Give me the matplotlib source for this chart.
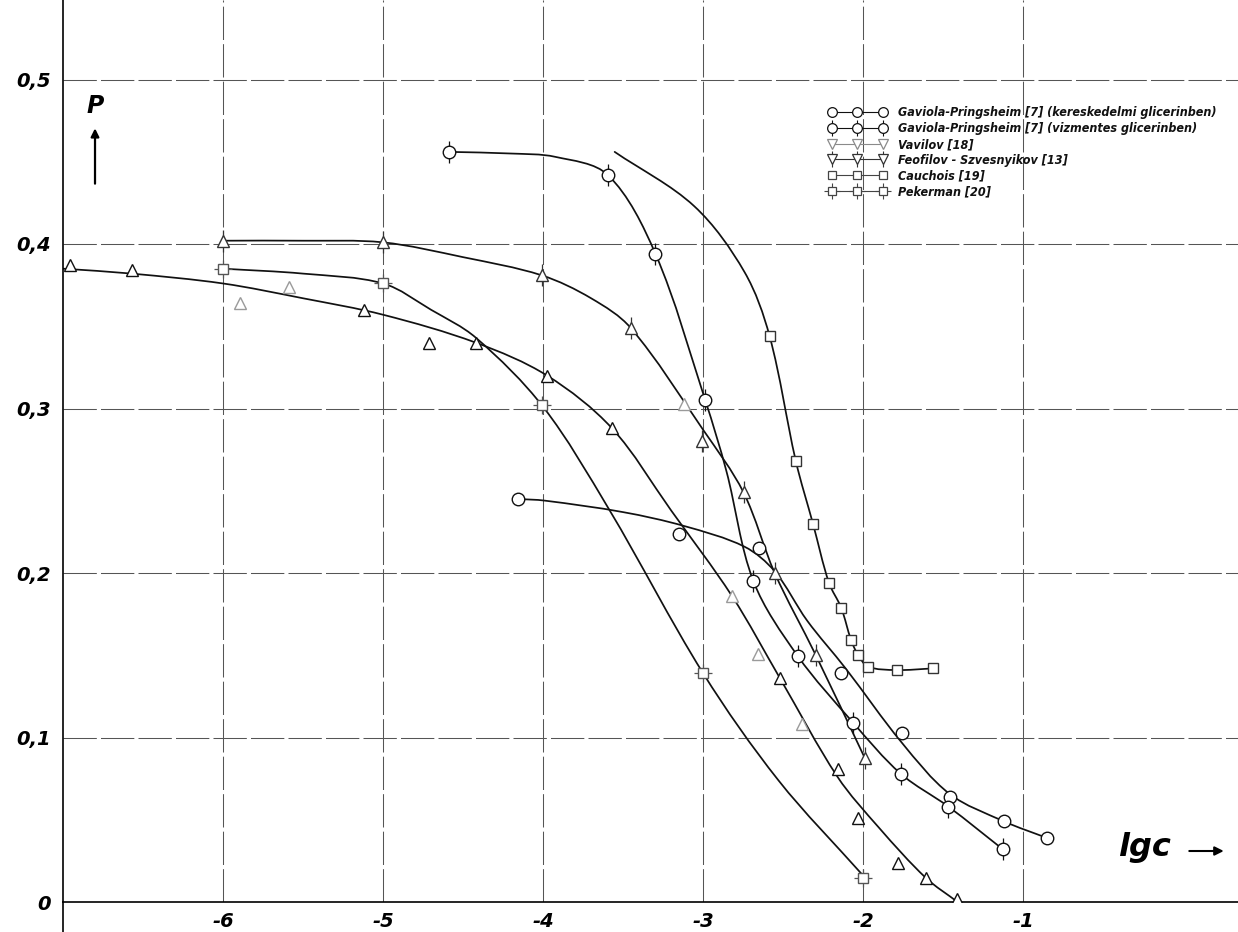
import numpy as np
import matplotlib
matplotlib.use("Agg")
import matplotlib.pyplot as plt
from matplotlib import font_manager
from matplotlib.path import Path
from matplotlib.patches import PathPatch
from matplotlib.lines import Line2D

# ---------------- data ----------------
x_ticks = [-6, -5, -4, -3, -2, -1]
x_tick_labels = ["-6", "-5", "-4", "-3", "-2", "-1"]
y_ticks = [0, 0.1, 0.2, 0.3, 0.4, 0.5]
y_tick_labels = ["0", "0,1", "0,2", "0,3", "0,4", "0,5"]

legend_labels = [
    "Gaviola-Pringsheim [7] (kereskedelmi glicerinben)",
    "Gaviola-Pringsheim [7] (vizmentes glicerinben)",
    "Vavilov [18]",
    "Feofilov - Szvesnyikov [13]",
    "Cauchois [19]",
    "Pekerman [20]",
]

# Gaviola-Pringsheim, kereskedelmi glicerin (plain circles)
kk_x = [-4.155, -3.149, -2.654, -2.138, -1.759, -1.456, -1.120, -0.854]
kk_p = [0.245, 0.224, 0.215, 0.139, 0.103, 0.064, 0.049, 0.039]
kk_curve_x = [-4.155, -3.99, -3.5, -3.12, -2.742, -2.553, -2.35, -2.11, -1.76, -1.46, -1.12, -0.854]
kk_curve_p = [0.245, 0.244, 0.237, 0.2286, 0.216, 0.201, 0.171, 0.142, 0.097, 0.0657, 0.049, 0.039]

# Gaviola-Pringsheim, vizmentes glicerin (circles with ticks)
vm_x = [-4.590, -3.596, -3.298, -2.987, -2.686, -2.409, -2.063, -1.766, -1.468, -1.127]
vm_p = [0.456, 0.442, 0.394, 0.305, 0.195, 0.1495, 0.109, 0.078, 0.058, 0.032]
vm_curve_x = [-4.59, -4.2, -3.925, -3.596, -3.298, -2.987, -2.855, -2.686, -2.409, -2.063, -1.766, -1.468, -1.127]
vm_curve_p = [0.456, 0.455, 0.453, 0.442, 0.394, 0.305, 0.262, 0.195, 0.1495, 0.109, 0.078, 0.058, 0.032]

# Vavilov (triangles; faint ones drawn lighter)
vav_x = [-6.957, -6.568, -5.117, -4.714, -4.422, -3.975, -3.571, -2.522, -2.157, -2.03, -1.78, -1.608, -1.411]
vav_p = [0.387, 0.384, 0.360, 0.340, 0.340, 0.320, 0.288, 0.136, 0.081, 0.051, 0.024, 0.0146, 0.002]
vav_faint_x = [-5.895, -5.586, -3.118, -2.818, -2.66, -2.384]
vav_faint_p = [0.364, 0.374, 0.303, 0.186, 0.151, 0.108]
vav_curve_x = [-7.0, -6.57, -6.0, -5.5, -5.0, -4.42, -3.975, -3.57, -3.2, -2.82, -2.52, -2.16, -1.9, -1.608, -1.41]
vav_curve_p = [0.385, 0.382, 0.376, 0.367, 0.357, 0.340, 0.320, 0.288, 0.238, 0.186, 0.136, 0.076, 0.045, 0.0146, 0.0]

# Feofilov - Szvesnyikov (triangles with ticks)
feo_x = [-6.0, -5.0, -4.01, -3.453, -3.01, -2.748, -2.553, -2.296, -1.99]
feo_p = [0.402, 0.401, 0.381, 0.349, 0.280, 0.249, 0.200, 0.150, 0.0875]
feo_curve_x = [-6.0, -5.5, -5.0, -4.5, -4.01, -3.7, -3.453, -3.0, -2.748, -2.553, -2.296, -1.99]
feo_curve_p = [0.402, 0.402, 0.401, 0.392, 0.381, 0.367, 0.349, 0.287, 0.249, 0.200, 0.150, 0.0875]

# Cauchois (plain squares)
cau_x = [-2.585, -2.421, -2.314, -2.214, -2.138, -2.075, -2.031, -1.969, -1.791, -1.563]
cau_p = [0.344, 0.268, 0.230, 0.194, 0.179, 0.159, 0.150, 0.143, 0.141, 0.142]
cau_curve_x = [-3.553, -3.056, -2.742, -2.585, -2.421, -2.314, -2.214, -2.138, -2.075, -2.031, -1.969, -1.791, -1.563]
cau_curve_p = [0.456, 0.423, 0.383, 0.344, 0.268, 0.230, 0.194, 0.179, 0.159, 0.150, 0.143, 0.141, 0.142]

# Pekerman (squares with ticks)
pek_x = [-6.0, -5.0, -4.01, -3.0, -2.0]
pek_p = [0.385, 0.376, 0.302, 0.139, 0.0146]
pek_curve_x = [-6.0, -5.5, -5.0, -4.7, -4.42, -4.0, -3.59, -3.0, -2.53, -2.0]
pek_curve_p = [0.385, 0.382, 0.376, 0.360, 0.343, 0.301, 0.239, 0.139, 0.074, 0.016]

# ---------------- helpers ----------------
SX, SY = 160.0, 1645.0  # approx pixels per data unit, for even smoothing


def smooth_path(xs, ys):
    P = np.column_stack([np.asarray(xs, float) * SX, np.asarray(ys, float) * SY])
    n = len(P)
    verts = [tuple(P[0])]
    codes = [Path.MOVETO]
    for i in range(n - 1):
        p0 = P[i - 1] if i > 0 else P[i]
        p1 = P[i]
        p2 = P[i + 1]
        p3 = P[i + 2] if i + 2 < n else P[i + 1]
        d01 = np.linalg.norm(p1 - p0) + 1e-9
        d12 = np.linalg.norm(p2 - p1) + 1e-9
        d23 = np.linalg.norm(p3 - p2) + 1e-9
        c1 = p1 + (p2 - p0) * (d12 / (d01 + d12)) / 3.0 if i > 0 else p1 + (p2 - p1) / 3.0
        c2 = p2 - (p3 - p1) * (d12 / (d12 + d23)) / 3.0 if i + 2 < n else p2 - (p2 - p1) / 3.0
        verts += [tuple(c1), tuple(c2), tuple(p2)]
        codes += [Path.CURVE4] * 3
    V = np.array(verts)
    V[:, 0] /= SX
    V[:, 1] /= SY
    return Path(V, codes)


def curve(ax, xs, ys, lw=1.25, color="#111111"):
    ax.add_patch(PathPatch(smooth_path(xs, ys), facecolor="none", edgecolor=color,
                           lw=lw, zorder=2, capstyle="round"))


def marks(ax, xs, ys, marker, ms, tick=None, color="#111111", tick_ms=None):
    if tick:
        ax.plot(xs, ys, ls="none", marker=tick, ms=tick_ms or ms * 1.7, mec=color,
                mew=0.9, zorder=3)
    ax.plot(xs, ys, ls="none", marker=marker, ms=ms, mfc="white", mec=color,
            mew=1.0, zorder=4)


# ---------------- figure ----------------
W, H = 1238, 932
fig = plt.figure(figsize=(W / 100, H / 100), dpi=100)
fig.patch.set_facecolor("white")
ax = fig.add_axes([63 / W, 30 / H, 1 - 63 / W, 902 / H])
ax.set_xlim(-7, -1 + (W - 1026) / 158)
ax.set_ylim(0, 902 / 1645)

# grid (hand-drawn dashed look)
for xv in x_ticks:
    ax.axvline(xv, color="#555555", lw=0.75, dashes=(32, 4), zorder=1)
for yv in y_ticks[1:]:
    ax.axhline(yv, color="#555555", lw=0.75, dashes=(32, 4), zorder=1)

for s in ["top", "right"]:
    ax.spines[s].set_visible(False)
ax.spines["left"].set_linewidth(1.2)
ax.spines["bottom"].set_linewidth(1.2)
ax.plot([-7, -7], [0, -0.02], color="black", lw=1.2, clip_on=False)

tick_font = dict(family="DejaVu Sans", weight="heavy", style="italic", size=14)
ax.set_xticks(x_ticks)
ax.set_xticklabels(x_tick_labels, **tick_font)
ax.set_yticks(y_ticks)
ax.set_yticklabels(y_tick_labels, **tick_font)
ax.tick_params(axis="both", length=0)
ax.tick_params(axis="x", pad=7)
ax.tick_params(axis="y", pad=9)

# curves
curve(ax, kk_curve_x, kk_curve_p)
curve(ax, vm_curve_x, vm_curve_p)
curve(ax, vav_curve_x, vav_curve_p)
curve(ax, feo_curve_x, feo_curve_p)
curve(ax, cau_curve_x, cau_curve_p)
curve(ax, pek_curve_x, pek_curve_p)

# markers
marks(ax, kk_x, kk_p, "o", 9)
marks(ax, vm_x, vm_p, "o", 9, tick="|")
marks(ax, vav_x, vav_p, "^", 9)
marks(ax, vav_faint_x, vav_faint_p, "^", 9, color="#9a9a9a")
marks(ax, feo_x, feo_p, "^", 9, tick="|", color="#333333")
marks(ax, cau_x, cau_p, "s", 7.5, color="#333333")
marks(ax, pek_x, pek_p, "s", 7.5, tick="+", color="#555555", tick_ms=13)

# ---- legend font: prefer a condensed face, sized so the longest label ~318 px ----
available = {(f.name, f.stretch) for f in font_manager.fontManager.ttflist}
names = {f.name for f in font_manager.fontManager.ttflist}
if ("DejaVu Sans", "condensed") in available or ("DejaVu Sans", 75) in available:
    leg_family, leg_stretch = ["DejaVu Sans"], "condensed"
elif "Liberation Sans Narrow" in names:
    leg_family, leg_stretch = ["Liberation Sans Narrow"], "normal"
elif "Roboto Condensed" in names:
    leg_family, leg_stretch = ["Roboto Condensed"], "normal"
else:
    leg_family, leg_stretch = ["DejaVu Sans"], "normal"

base_size = 10.0
renderer = fig.canvas.get_renderer()
probe = fig.text(0, 0, legend_labels[0], family=leg_family, stretch=leg_stretch,
                 weight="bold", style="italic", size=base_size)
wpx = probe.get_window_extent(renderer).width
probe.remove()
leg_size = min(10.5, base_size * 318.0 / wpx)


def h(marker, ms, tick=None, color="#111111", tick_ms=None):
    base = Line2D([], [], color=color, lw=0.8, marker=marker, ms=ms, mfc="white",
                  mec=color, mew=0.9)
    if tick:
        t = Line2D([], [], color=color, lw=0, marker=tick, ms=tick_ms or ms * 1.6, mew=0.8)
        return (t, base)
    return base


handles = [
    h("o", 7),
    h("o", 7, tick="|"),
    h("v", 7, color="#8a8a8a"),
    h("v", 7, tick="|", color="#333333"),
    h("s", 6, color="#444444"),
    h("s", 6, tick="+", color="#444444", tick_ms=11),
]
fs_px = leg_size * 100 / 72.0
leg = ax.legend(handles, legend_labels, loc="upper left",
                bbox_to_anchor=(822 / W, 1 - 100 / H), bbox_transform=fig.transFigure,
                frameon=False, numpoints=3, handlelength=58 / fs_px,
                handletextpad=12 / fs_px,
                labelspacing=max(0.05, (17.5 - fs_px * 1.17) / fs_px), borderpad=0.0,
                prop=font_manager.FontProperties(family=leg_family, stretch=leg_stretch,
                                                 weight="bold", style="italic",
                                                 size=leg_size))
for t in leg.get_texts():
    t.set_color("#111111")

# axis labels as in the drawing
ax.text(-6.8, 0.484, "P", fontsize=17, fontweight="heavy", style="italic",
        ha="center", va="center", family="DejaVu Sans")
ax.annotate("", xy=(-6.8, 0.472), xytext=(-6.8, 0.435),
            arrowprops=dict(arrowstyle="-|>", color="black", lw=1.6, mutation_scale=12))
ax.text(-0.24, 0.033, "lgc", fontsize=23, fontweight="heavy", style="italic",
        ha="center", va="center", family="DejaVu Sans")
ax.annotate("", xy=(0.27, 0.031), xytext=(0.02, 0.031),
            arrowprops=dict(arrowstyle="-|>", color="black", lw=1.5, mutation_scale=13))

fig.savefig("out.png", dpi=100, facecolor="white")
